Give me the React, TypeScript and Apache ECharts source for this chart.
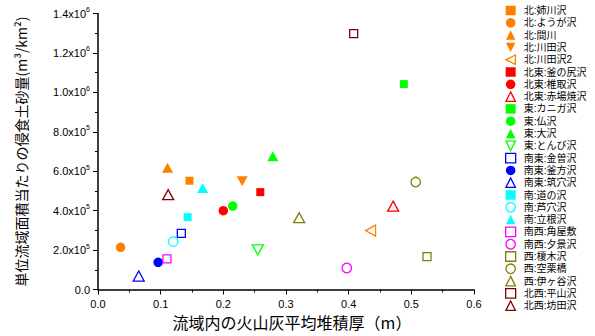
import React, { useEffect, useRef } from "react";
import * as echarts from "echarts";

const seriesNames = [
  "北:姉川沢", "北:ようが沢", "北:間川", "北:川田沢", "北:川田沢2",
  "北東:釜の尻沢", "北東:椎取沢", "北東:赤場焼沢",
  "東:カニガ沢", "東:仏沢", "東:大沢", "東:とんび沢",
  "南東:金曽沢", "南東:釜方沢", "南東:筑穴沢",
  "南:道の沢", "南:芦穴沢", "南:立根沢",
  "南西:角屋敷", "南西:夕景沢",
  "西:榎木沢", "西:空栗橋", "西:伊ヶ谷沢",
  "北西:平山沢", "北西:坊田沢",
];
const xValues = [
  0.146, 0.036, 0.111, 0.230, 0.435,
  0.259, 0.200, 0.471,
  0.488, 0.215, 0.279, 0.255,
  0.133, 0.096, 0.065,
  0.143, 0.120, 0.167,
  0.110, 0.397,
  0.525, 0.507, 0.321,
  0.408, 0.112,
];
const yValues = [
  552000, 214000, 617000, 549000, 299000,
  494000, 400000, 423000,
  1042000, 423000, 676000, 201000,
  285000, 138000, 68000,
  367000, 243000, 515000,
  155000, 109000,
  167000, 545000, 364000,
  1298000, 481000,
];
const symbolKinds = [
  "square", "circle", "up", "down", "left",
  "square", "circle", "up",
  "square", "circle", "up", "down",
  "square", "circle", "up",
  "square", "circle", "up",
  "square", "circle",
  "square", "circle", "up",
  "square", "up",
];
const filledFlags = [
  true, true, true, true, false,
  true, true, false,
  true, true, true, false,
  false, true, false,
  true, false, true,
  false, false,
  false, false, false,
  false, false,
];
const colorList = [
  "#FF8000", "#FF8000", "#FF8000", "#FF8000", "#FF8000",
  "#FF0000", "#FF0000", "#FF0000",
  "#00FF00", "#00FF00", "#00FF00", "#00FF00",
  "#0000FF", "#0000FF", "#0000FF",
  "#00FFFF", "#00FFFF", "#00FFFF",
  "#FF00FF", "#FF00FF",
  "#808000", "#808000", "#808000",
  "#800000", "#800000",
];

const symbolOf = (k: string) =>
  k === "square"
    ? "rect"
    : k === "circle"
    ? "circle"
    : k === "up"
    ? "path://M5,0L10,10L0,10Z"
    : k === "down"
    ? "path://M0,0L10,0L5,10Z"
    : "path://M10,0L10,10L0,5Z";
const sizeOf = (k: string): any =>
  k === "square" ? 8 : k === "circle" ? 9.5 : k === "left" ? [10, 11] : [11, 10];

export default function App() {
  const ref = useRef<HTMLDivElement>(null);
  useEffect(() => {
    if (!ref.current) return;
    document.body.style.margin = "0";
    const chart = echarts.init(ref.current, undefined, { renderer: "svg" });
    const styleFor = (i: number) =>
      filledFlags[i]
        ? { color: colorList[i], borderColor: colorList[i], borderWidth: 0, opacity: 1 }
        : { color: "rgba(255,255,255,0)", borderColor: colorList[i], borderWidth: 1.3, opacity: 1 };
    const series = seriesNames.map((name, i) => ({
      type: "scatter",
      name,
      data: [[xValues[i], yValues[i]]],
      symbol: symbolOf(symbolKinds[i]),
      symbolSize: sizeOf(symbolKinds[i]),
      itemStyle: styleFor(i),
      emphasis: { disabled: true },
    }));
    const axisFont = "'Liberation Sans', Arial, sans-serif";
    chart.setOption({
      animation: false,
      backgroundColor: "#fff",
      grid: { left: 98, right: 121, top: 13.5, bottom: 46.5, containLabel: false },
      xAxis: {
        type: "value",
        min: 0,
        max: 0.6,
        interval: 0.1,
        name: "流域内の火山灰平均堆積厚（m）",
        nameLocation: "middle",
        nameGap: 16,
        nameTextStyle: {
          fontSize: 16,
          color: "#000",
          fontFamily: "'Noto Sans CJK JP', sans-serif",
          verticalAlign: "top",
          padding: [0, 0, 0, 12],
        },
        axisLine: { show: true, lineStyle: { color: "#000", width: 1.5 } },
        axisTick: { show: true, inside: false, length: 5, lineStyle: { color: "#000", width: 1 } },
        minorTick: { show: true, splitNumber: 2, length: 3, lineStyle: { color: "#000", width: 1 } },
        splitLine: { show: false },
        axisLabel: {
          fontSize: 11,
          color: "#000",
          fontFamily: axisFont,
          margin: 9,
          formatter: (v: number) => v.toFixed(1),
        },
      },
      yAxis: {
        type: "value",
        min: 0,
        max: 1400000,
        interval: 200000,
        name: "単位流域面積当たりの侵食土砂量(m³/km²)",
        nameLocation: "middle",
        nameRotate: 90,
        nameGap: 70,
        nameTextStyle: { fontSize: 14, color: "#000", fontFamily: "'Noto Sans CJK JP', sans-serif" },
        axisLine: { show: true, lineStyle: { color: "#000", width: 1.5 } },
        axisTick: { show: true, inside: false, length: 5, lineStyle: { color: "#000", width: 1 } },
        minorTick: { show: true, splitNumber: 2, length: 3, lineStyle: { color: "#000", width: 1 } },
        splitLine: { show: false },
        axisLabel: {
          color: "#000",
          margin: 8,
          formatter: (v: number) => {
            if (v === 0) return "{m|0.0}";
            const e = Math.floor(Math.log10(v) + 1e-9);
            const m = (v / Math.pow(10, e)).toFixed(1);
            return `{m|${m}x10}{e|${e}}`;
          },
          rich: {
            m: { fontSize: 11, fontFamily: axisFont, color: "#000", lineHeight: 15 },
            e: { fontSize: 7, fontFamily: axisFont, color: "#000", verticalAlign: "top", lineHeight: 9 },
          },
        },
      },
      legend: {
        orient: "vertical",
        left: 500,
        top: -0.5,
        itemWidth: 10,
        itemHeight: 9.5,
        itemGap: 0.3,
        textStyle: {
          fontSize: 10,
          color: "#000",
          fontFamily: "'Liberation Sans', 'Noto Sans CJK JP', sans-serif",
          lineHeight: 12,
          padding: [0, 0, 0, 3],
        },
        data: seriesNames.map((name, i) => ({
          name,
          itemStyle: styleFor(i),
        })),
        selectedMode: false,
      },
      series,
    });
    return () => chart.dispose();
  }, []);
  return <div ref={ref} style={{ position: "absolute", left: 0, top: 0, width: 595, height: 336 }} />;
}
